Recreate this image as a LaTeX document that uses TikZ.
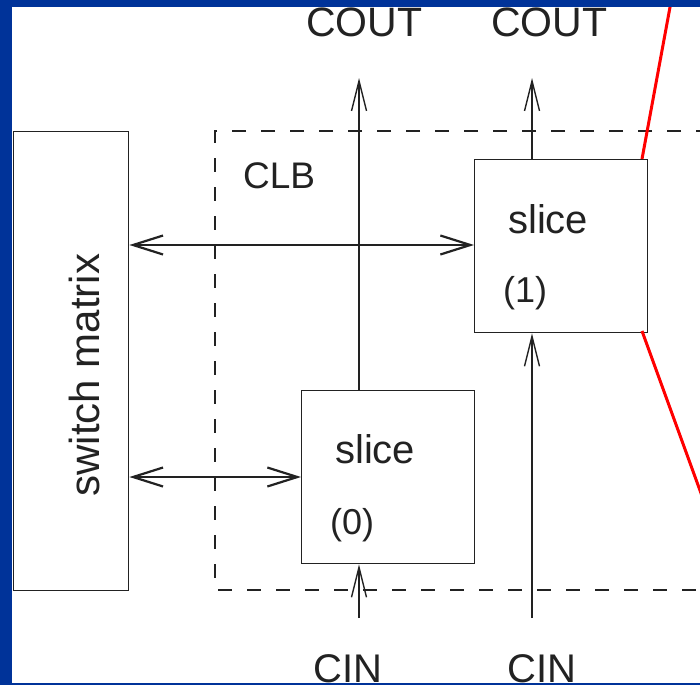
\documentclass[tikz,border=0pt]{standalone}
\usepackage{fontspec}
\setmainfont{Liberation Sans}
\usetikzlibrary{arrows.meta,positioning}
\definecolor{Ink}{HTML}{222222}
\definecolor{Frame}{HTML}{003399}
\definecolor{Wire}{HTML}{FF0000}
\tikzset{
  block/.style={
    draw=Ink, line width=1.4pt, inner sep=0pt, anchor=north west
  },
  tag/.style={inner sep=0pt, anchor=base west, text=Ink},
  bus/.style={{Straight Barb[length=30pt,width=19pt]}-{Straight Barb[length=30pt,width=19pt]},
    line width=2.2pt, draw=Ink},
  carry/.style={-{Straight Barb[length=30pt,width=15pt]}, line width=1.4pt, draw=Ink},
  zoomline/.style={line width=3pt, draw=Wire}
}
\newcommand{\txtsize}[1]{\fontsize{#1}{#1}\selectfont}

\begin{document}
\begin{tikzpicture}[x=1pt,y=-1pt]
  \useasboundingbox (0,0) rectangle (700,685);
  \clip (0,0) rectangle (700,685);

  % blocks
  \node[block,minimum width=115pt,minimum height=459pt] (switch) at (13,131) {};
  \node[block,minimum width=173pt,minimum height=173pt] (slice0) at (301,390) {};
  \node[block,minimum width=173pt,minimum height=173pt] (slice1) at (474,159) {};
  \draw[Ink,line width=1.4pt,dash pattern=on 14pt off 15pt] (710,131) -- (215,131) -- (215,590) -- (710,590);

  % texts
  \node[tag,rotate=90,anchor=base] (swlabel) at (99,375) {\txtsize{42}switch matrix};
  \node[tag] (clb) at (243,188) {\txtsize{37}CLB};
  \node[tag] (name1) at (508,233) {\txtsize{40}slice};
  \node[tag] (num1) at (503,302) {\txtsize{36}(1)};
  \node[tag] (name0) at (335,463) {\txtsize{40}slice};
  \node[tag] (num0) at (330,534) {\txtsize{36}(0)};
  \node[tag] (cout0) at (306,37) {\txtsize{41}COUT};
  \node[tag] (cout1) at (491,37) {\txtsize{41}COUT};
  \node[tag] (cin0) at (313,682) {\txtsize{40}CIN};
  \node[tag] (cin1) at (507,682) {\txtsize{40}CIN};

  % carry chain ends
  \coordinate (top0) at (359,78);
  \coordinate (top1) at (532,78);
  \coordinate (bot0) at (359,618);
  \coordinate (bot1) at (532,618);

  % connections
  \draw[bus] (switch.east |- 0,245) -- (slice1.west |- 0,245);
  \draw[bus] (switch.east |- 0,477) -- (slice0.west |- 0,477);
  \draw[carry] (top0 |- slice0.north) -- (top0);
  \draw[carry] (top1 |- slice1.north) -- (top1);
  \draw[carry] (bot0) -- (bot0 |- slice0.south);
  \draw[carry] (bot1) -- (bot1 |- slice1.south);

  % zoom lines
  \coordinate (ztop) at (675,-20);
  \coordinate (zbot) at (710,518);
  \draw[zoomline] (642,159) -- (ztop);
  \draw[zoomline] (642,331) -- (zbot);

  % frame
  \fill[Frame] (0,0) rectangle (700,7);
  \fill[Frame] (0,0) rectangle (12,685);
  \fill[Frame] (0,683) rectangle (700,685);
\end{tikzpicture}
\end{document}
